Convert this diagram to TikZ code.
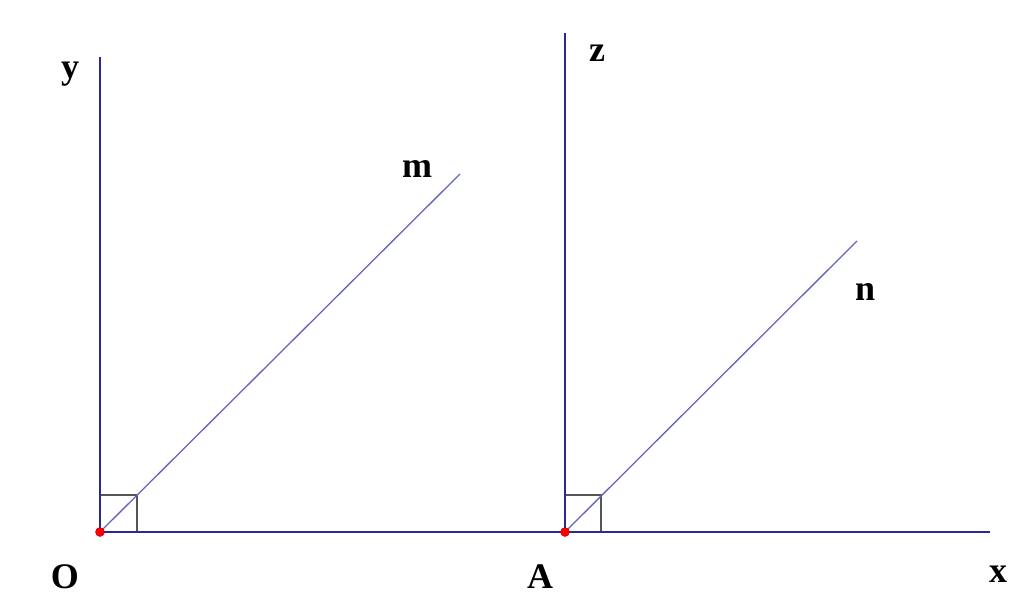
\documentclass[tikz,border=0pt]{standalone}
\usepackage{fontspec}
\setmainfont{Liberation Serif}
\usetikzlibrary{positioning}

\definecolor{axisblue}{RGB}{40, 40, 150}
\definecolor{lineblue}{RGB}{100, 100, 195}
\definecolor{boxgrey}{RGB}{85, 85, 85}

\tikzset{
	axis/.style = {axisblue, line width = 2pt},
	ray/.style = {lineblue, line width = 1.3pt},
	rightbox/.style = {boxgrey, line width = 1.4pt},
	lbl/.style = {anchor = base, inner sep = 0pt, font = \fontsize{36}{40}\selectfont\bfseries},
	dot/.style = {circle, fill = red, draw = red!70!black, line width = 0.4pt, minimum size = 9pt, inner sep = 0pt}
}

\begin{document}
\begin{tikzpicture}[x = 1pt, y = -1pt]
						\useasboundingbox (0, 0) rectangle (1024, 610);
						\coordinate (O) at (100, 532);
						\coordinate (A) at (565, 532);
						\coordinate (X) at (990, 532);
						\coordinate (Y) at (100, 57);
						\coordinate (Z) at (565, 33);
						\coordinate (M) at (460, 174);
						\coordinate (N) at (857, 241);
						\draw[rightbox] (100, 495) -| (137, 532);
						\draw[rightbox] (565, 495) -| (601, 532);
						\draw[axis] (O)--(X);
						\draw[axis] (O)--(Y);
						\draw[axis] (A)--(Z);
						\draw[ray] (O)--(M);
						\draw[ray] (A)--(N);
						\node[dot] (dotO) at (O) {};
						\node[dot] (dotA) at (A) {};
						\node[lbl] (lblO) at (65, 588) {O};
						\node[lbl] (lblA) at (540, 588) {A};
						\node[lbl] (lblX) at (998, 582) {x};
						\node[lbl] (lblY) at (70, 78) {y};
						\node[lbl] (lblZ) at (597, 62) {z};
						\node[lbl] (lblM) at (417, 177) {m};
						\node[lbl] (lblN) at (865, 300) {n};
					\end{tikzpicture}
\end{document}
